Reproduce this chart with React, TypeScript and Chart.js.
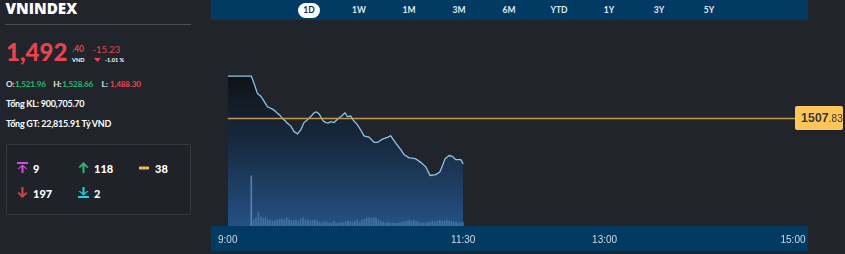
import React, { useEffect, useRef } from 'react';
import { Chart, registerables } from 'chart.js';

Chart.register(...registerables);

// ---- data ----
const priceTimes = [0, 15, 16.8, 18.9, 21, 23, 25.3, 27, 28.5, 30, 31.7, 33.5, 34.8, 36.5, 38, 40.1, 42.2, 44.4, 46.5, 48.6, 50.8, 53, 55, 56.5, 58.2, 60.7, 62.4, 64, 65.6, 67.7, 69.9, 72.6, 74.7, 76.2, 78.3, 79.8, 82.6, 84.7, 86.8, 88.5, 90, 93.2, 95.4, 98.5, 101.7, 103.8, 107, 110.2, 112.3, 115.5, 117.5, 119.7, 122.9, 126.1, 128.9, 132.5, 135, 136.8, 138.4, 141, 143.1, 145.2, 148.4, 150];
const priceValues = [1521.96, 1521.96, 1519.4, 1516.1, 1515.2, 1513.6, 1511.6, 1511.2, 1510.8, 1510.3, 1509.4, 1508.6, 1507.7, 1506.9, 1506.1, 1505.2, 1503.3, 1502.5, 1503.8, 1506.3, 1507.2, 1508.4, 1509.6, 1509.9, 1509.2, 1506.9, 1506.3, 1506.1, 1506.6, 1506.3, 1507.4, 1508.5, 1509.6, 1508.3, 1508.5, 1507.2, 1505.5, 1503.8, 1501.8, 1501.6, 1501.4, 1499.6, 1499.6, 1500.7, 1501.3, 1501.8, 1499.4, 1497.2, 1495.5, 1494.4, 1494.3, 1494.1, 1492.9, 1491.4, 1488.5, 1488.8, 1489.6, 1491.8, 1494.1, 1495.2, 1494.9, 1493.8, 1493.8, 1492.4];
const volumeValues = [26000,
  3100, 4200, 6800, 4700, 4100, 4300, 3200, 3000, 2600, 2700, 3100, 3600, 3700, 3100, 4200, 3200, 3000, 2600, 3100, 2500, 3600, 4300, 3100, 3200, 2600, 3000, 3100, 2700, 2100, 1600, 2200, 2000, 1500, 1700, 2600, 1500, 1600, 2100, 1600, 2000, 2600, 2200,
  2000, 2600, 3100, 2100, 3200, 3600, 4100, 4300, 4000, 4200, 4100, 3100, 2600, 2000, 1600, 2100, 1500, 1600, 1400, 1500, 1600, 2100, 2000, 2600, 3100, 2600, 3000, 2500, 2100, 1600, 1500, 1700, 2100, 2000, 2600, 2100, 2700, 3100, 2600, 2500, 3100, 2600, 2500, 2000, 2100, 1600, 1500, 2100];
const volumeStartMinute = 15;
const volumeStepMinute = 1.5;
const tickMinutes = [0, 150, 240, 360];
const tickLabels = ['9:00', '11:30', '13:00', '15:00'];
const refPrice = 1507.83;
const periods = ['1D', '1W', '1M', '3M', '6M', 'YTD', '1Y', '3Y', '5Y'];

const BG = '#21242a';
const BAR = '#013b63';

const refLinePlugin = {
  id: 'refLine',
  afterDatasetsDraw(chart: any) {
    const { ctx, chartArea, scales } = chart;
    const y = Math.round(scales.y.getPixelForValue(refPrice)) + 0.5;
    ctx.save();
    ctx.strokeStyle = '#c29a44';
    ctx.lineWidth = 1.6;
    ctx.beginPath();
    ctx.moveTo(chartArea.left, y);
    ctx.lineTo(chartArea.right + 3, y);
    ctx.stroke();
    const bx = chartArea.right + 2;
    const bw = 48;
    const bh = 24;
    const by = y - 12.5;
    ctx.fillStyle = '#fdc55a';
    ctx.beginPath();
    (ctx as any).roundRect(bx, by, bw, bh, 2);
    ctx.fill();
    const [ip, fp] = refPrice.toFixed(2).split('.');
    ctx.fillStyle = '#36383c';
    ctx.textBaseline = 'middle';
    ctx.font = 'bold 12.5px "Liberation Sans", Arial, sans-serif';
    const w1 = ctx.measureText(ip).width;
    const tx = bx + 6;
    ctx.fillText(ip, tx, y);
    ctx.font = '10px "Liberation Sans", Arial, sans-serif';
    ctx.fillText('.' + fp, tx + w1, y + 0.5);
    ctx.restore();
  },
};

function PriceChart() {
  const ref = useRef<HTMLCanvasElement>(null);
  useEffect(() => {
    if (!ref.current) return;
    const priceData = priceTimes.map((t, i) => ({ x: t, y: priceValues[i] }));
    const volData = volumeValues.map((v, i) => ({ x: volumeStartMinute + i * volumeStepMinute, y: v }));
    const maxPrice = Math.max(...priceValues);
    const chart = new Chart(ref.current, {
      type: 'line',
      data: {
        datasets: [
          {
            type: 'bar',
            data: volData as any,
            yAxisID: 'yv',
            backgroundColor: (c: any) => (c.dataIndex === 0 ? 'rgba(120,170,220,0.6)' : 'rgba(110,160,215,0.42)'),
            barThickness: 1,
            order: 0,
          } as any,
          {
            type: 'line',
            data: priceData as any,
            yAxisID: 'y',
            borderColor: '#8fc6ea',
            borderWidth: 1.3,
            pointRadius: 0,
            tension: 0,
            fill: 'start',
            backgroundColor: (c: any) => {
              const ch = c.chart;
              const { ctx, chartArea, scales } = ch;
              if (!chartArea) return 'rgba(0,0,0,0)';
              const top = scales.y.getPixelForValue(maxPrice);
              const g = ctx.createLinearGradient(0, top, 0, chartArea.bottom);
              g.addColorStop(0, '#0f1216');
              g.addColorStop(0.45, '#182a40');
              g.addColorStop(1, '#245184');
              return g;
            },
            order: 1,
          } as any,
        ],
      },
      options: {
        animation: false,
        responsive: false,
        layout: { padding: { left: 17, right: 52, top: 20, bottom: 0 } },
        plugins: { legend: { display: false }, tooltip: { enabled: false } },
        scales: {
          x: {
            type: 'linear',
            min: 0,
            max: 360,
            offset: false,
            grid: { display: false, drawTicks: false },
            border: { display: false },
            afterBuildTicks: (scale: any) => {
              scale.ticks = tickMinutes.map((v) => ({ value: v }));
            },
            afterFit: (scale: any) => {
              scale.height = 28;
            },
            ticks: {
              autoSkip: false,
              maxRotation: 0,
              padding: 8,
              color: '#d3dbe3',
              font: { size: 10, family: '"Liberation Sans", Arial, sans-serif' },
              callback: (v: any) => tickLabels[tickMinutes.indexOf(Number(v))] ?? '',
            },
          },
          y: { display: false, min: 1471.47, max: 1540.83 },
          yv: { display: false, min: 0, max: 107000 },
        },
      },
      plugins: [refLinePlugin],
    });
    return () => chart.destroy();
  }, []);
  return (
    <canvas
      ref={ref}
      width={635}
      height={254}
      style={{ position: 'absolute', left: 210, top: 0, width: 635, height: 254, zIndex: 1 }}
    />
  );
}

const txt = (left: number, top: number, size: number, color: string, weight: number | string = 700, extra: any = {}) => ({
  position: 'absolute' as const,
  left,
  top,
  fontSize: size,
  color,
  fontWeight: weight,
  lineHeight: 1,
  whiteSpace: 'nowrap' as const,
  ...extra,
});

const RED = '#e8444f';
const GREEN = '#1fbe72';

function Icon({ kind, left, top }: { kind: string; left: number; top: number }) {
  const style = { position: 'absolute' as const, left, top };
  if (kind === 'ceil')
    return (
      <svg width={11} height={11} style={style}>
        <rect x={0} y={0} width={11} height={2} fill="#cc4ee3" />
        <path d="M5.5 2.5 L10.5 7 L9 7 L6.5 5 L6.5 11 L4.5 11 L4.5 5 L2 7 L0.5 7 Z" fill="#cc4ee3" />
      </svg>
    );
  if (kind === 'up')
    return (
      <svg width={11} height={11} style={style}>
        <path d="M5.5 0 L10.5 5 L9 6 L6.5 3.5 L6.5 11 L4.5 11 L4.5 3.5 L2 6 L0.5 5 Z" fill="#1fbf75" />
      </svg>
    );
  if (kind === 'down')
    return (
      <svg width={11} height={11} style={style}>
        <path d="M5.5 11 L10.5 6 L9 5 L6.5 7.5 L6.5 0 L4.5 0 L4.5 7.5 L2 5 L0.5 6 Z" fill="#e0403f" />
      </svg>
    );
  if (kind === 'floor')
    return (
      <svg width={11} height={11} style={style}>
        <path d="M5.5 8.5 L10.5 4 L9 4 L6.5 6 L6.5 0 L4.5 0 L4.5 6 L2 4 L0.5 4 Z" fill="#19d3e6" />
        <rect x={0} y={9} width={11} height={2} fill="#19d3e6" />
      </svg>
    );
  return (
    <svg width={11} height={4} style={style}>
      <rect x={0} y={0.5} width={10} height={3} fill="#f2a83a" />
      <rect x={0} y={1.5} width={10} height={1} fill="#f7c46a" />
    </svg>
  );
}

export default function App() {
  useEffect(() => {
    document.body.style.margin = '0';
    document.body.style.background = BG;
  }, []);
  const F = 'Lato, "Noto Sans", sans-serif';
  const OS = '"Open Sans", "Noto Sans", sans-serif';
  return (
    <div style={{ position: 'fixed', left: 0, top: 0, width: 845, height: 254, background: BG, overflow: 'hidden', fontFamily: F }}>
      {/* left panel */}
      <div style={txt(5.5, 1.2, 15.2, '#ffffff', 800, { fontFamily: OS, letterSpacing: 0 })}>VNINDEX</div>
      <div style={{ position: 'absolute', left: 5, top: 24, width: 186, height: 1, background: '#4b4e55' }} />
      <div style={txt(6, 39.5, 24, RED, 900, { letterSpacing: 0 })}>1,492</div>
      <div style={txt(72, 45.3, 8.5, RED, 700)}>.40</div>
      <div style={txt(72, 56.6, 5.6, '#ffffff', 700)}>VND</div>
      <div style={txt(92.5, 44.6, 9.5, RED, 400)}>-15.23</div>
      <svg width={7} height={4} style={{ position: 'absolute', left: 93.5, top: 57.5 }}>
        <path d="M0 0 L7 0 L3.5 4 Z" fill={RED} />
      </svg>
      <div style={txt(105, 56.6, 5.6, '#ffffff', 700)}>-1.01 %</div>

      <div style={txt(6, 80.3, 8.2, '#e6e6e6', 700)}>O:</div>
      <div style={txt(15, 80.3, 8.2, GREEN, 700, { letterSpacing: -0.2 })}>1,521.96</div>
      <div style={txt(53.3, 80.3, 8.2, '#e6e6e6', 700)}>H:</div>
      <div style={txt(62.3, 80.3, 8.2, GREEN, 700, { letterSpacing: -0.2 })}>1,528.66</div>
      <div style={txt(101.5, 80.3, 8.2, '#e6e6e6', 700)}>L:</div>
      <div style={txt(110, 80.3, 8.2, RED, 700, { letterSpacing: -0.2 })}>1,488.30</div>

      <div style={txt(6, 99.2, 9, '#ffffff', 700, { letterSpacing: -0.25 })}>Tổng KL: 900,705.70</div>
      <div style={txt(6, 118.5, 9, '#ffffff', 700, { letterSpacing: -0.25 })}>Tổng GT: 22,815.91 Tỷ VND</div>

      <div style={{ position: 'absolute', left: 6, top: 144, width: 183, height: 69, border: '1px solid #35383f', borderRadius: 2, background: '#1f2228' }} />
      <Icon kind="ceil" left={17} top={162} />
      <div style={txt(33, 162.5, 11, '#ffffff', 900)}>9</div>
      <Icon kind="up" left={78} top={162} />
      <div style={txt(94, 162.5, 11, '#ffffff', 900)}>118</div>
      <Icon kind="flat" left={139} top={166} />
      <div style={txt(155, 162.5, 11, '#ffffff', 900)}>38</div>
      <Icon kind="down" left={17} top={187} />
      <div style={txt(33, 187.5, 11, '#ffffff', 900)}>197</div>
      <Icon kind="floor" left={78} top={187} />
      <div style={txt(94, 187.5, 11, '#ffffff', 900)}>2</div>

      {/* bottom axis bar (behind canvas) */}
      <div style={{ position: 'absolute', left: 211, top: 226, width: 597, height: 25, background: BAR }} />

      <PriceChart />

      {/* top period bar */}
      <div style={{ position: 'absolute', left: 211, top: 0, width: 597, height: 20, background: BAR, zIndex: 2 }}>
        {periods.map((p, i) => {
          const cx = 309 + i * 50 - 211;
          const active = i === 0;
          return (
            <div
              key={p}
              style={{
                position: 'absolute',
                left: cx - 11,
                top: 2.5,
                width: 22,
                height: 15,
                borderRadius: 8,
                background: active ? '#ffffff' : 'transparent',
                color: active ? '#0c2f4d' : '#e3e9ef',
                fontSize: 8.5,
                fontWeight: 700,
                lineHeight: '15px',
                textAlign: 'center',
                fontFamily: F,
              }}
            >
              {p}
            </div>
          );
        })}
      </div>
    </div>
  );
}
